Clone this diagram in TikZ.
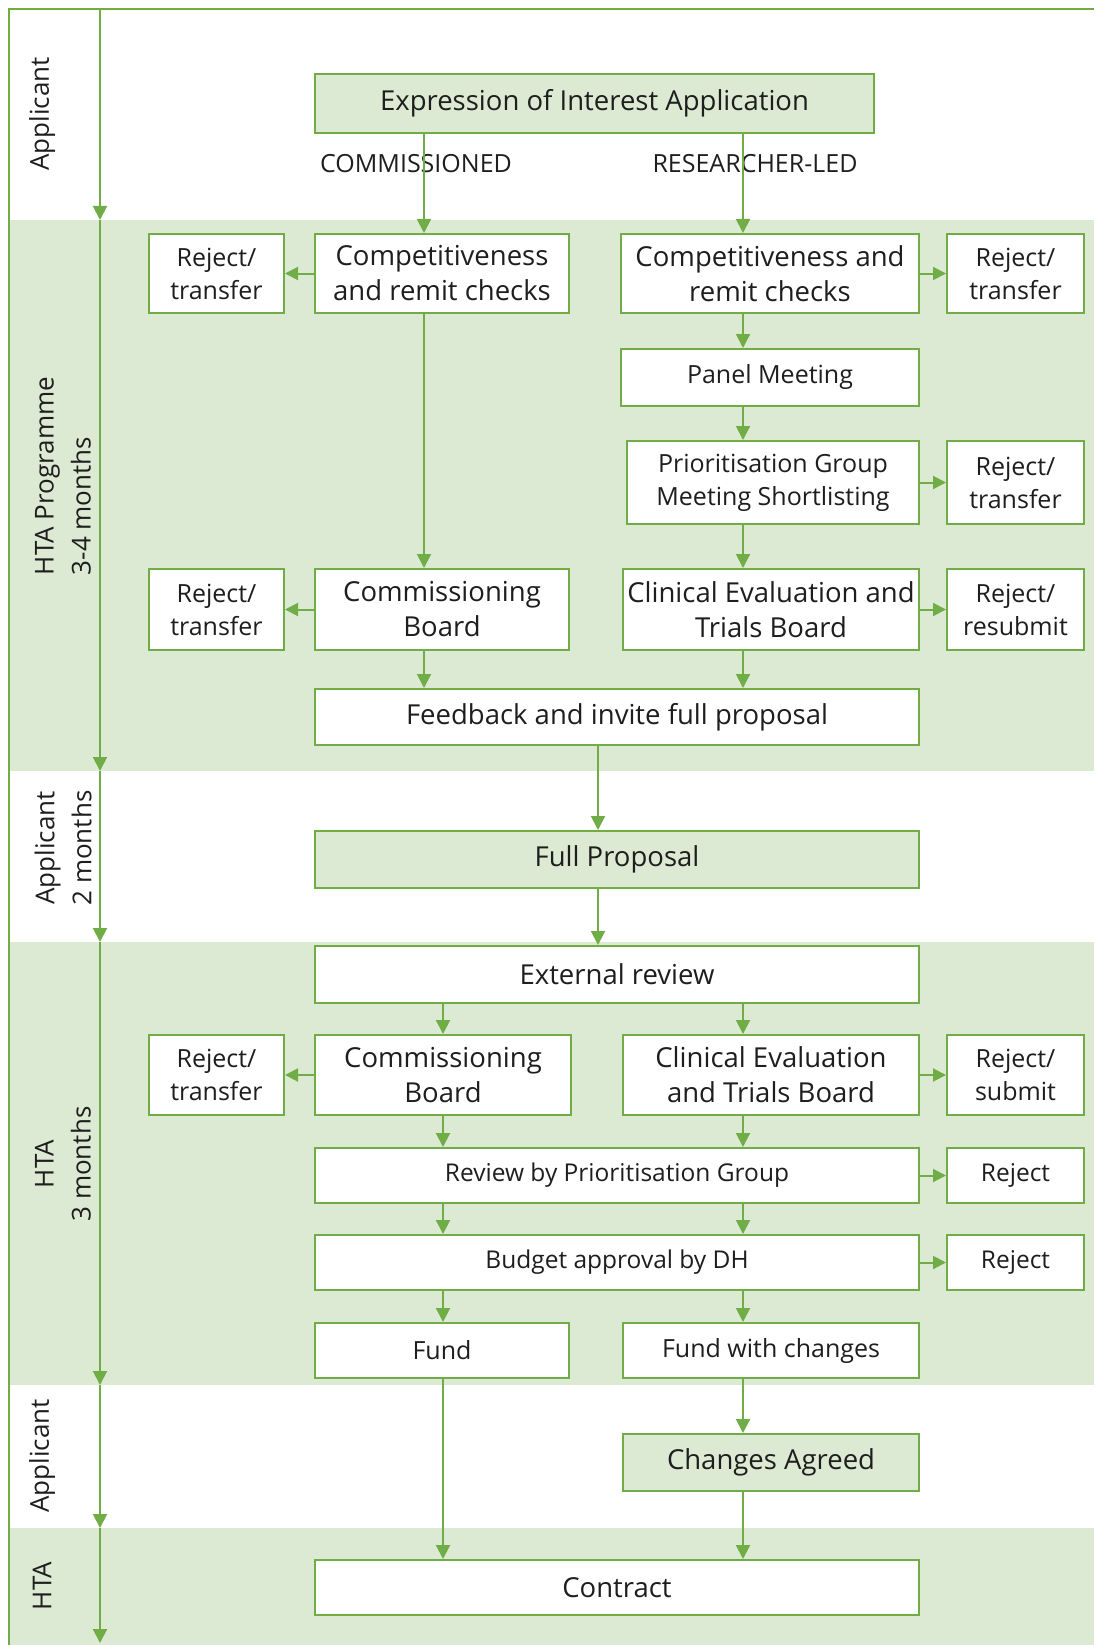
\documentclass[tikz,border=0pt]{standalone}
\usepackage{fontspec}
\setmainfont{Open Sans}
\usepackage{tikz}
\usetikzlibrary{arrows.meta, positioning}
\definecolor{htagreen}{RGB}{112,173,71}
\definecolor{bandgreen}{RGB}{221,234,211}
\definecolor{inkgray}{RGB}{30,30,30}
\newcommand{\fsbig}{\fontsize{27.5}{35}\selectfont}
\newcommand{\fsmid}{\fontsize{25}{33}\selectfont}
\newcommand{\fssmall}{\fontsize{24.5}{32}\selectfont}
\newcommand{\fslane}{\fontsize{26}{37}\selectfont}

\begin{document}
\begin{tikzpicture}[
    x=1pt, y=-1pt,
    box/.style={rectangle, draw=htagreen, line width=2pt, fill=white,
                inner sep=0pt, align=center, text=inkgray, font=\fsbig},
    midbox/.style={box, font=\fsmid},
    smallbox/.style={box, font=\fssmall},
    appbox/.style={box, fill=bandgreen},
    dims/.style 2 args={minimum width=#1pt, minimum height=#2pt},
    lane/.style={rotate=90, align=center, text=inkgray, font=\fslane},
    branch/.style={text=inkgray, font=\fsmid},
    arrow/.style={-{Triangle[length=14pt,width=14pt]}, line width=2pt, htagreen},
    sidearrow/.style={-{Triangle[length=13pt,width=13pt]}, line width=2pt, htagreen}
]
    \useasboundingbox (0,0) rectangle (1094,1645);

    % Bands
    \fill[bandgreen] (9,220) rectangle (1094,771);
    \fill[bandgreen] (9,942) rectangle (1094,1385);
    \fill[bandgreen] (9,1528) rectangle (1094,1645);
    \draw[htagreen, line width=2pt] (9,1645) -- (9,9) -- (1094,9);

    % Timeline
    \coordinate (t0) at (100,9);
    \coordinate (t1) at (100,220);
    \coordinate (t2) at (100,771);
    \coordinate (t3) at (100,942);
    \coordinate (t4) at (100,1385);
    \coordinate (t5) at (100,1528);
    \coordinate (t6) at (100,1643);
    \foreach \a/\b in {t0/t1, t1/t2, t2/t3, t3/t4, t4/t5, t5/t6}
        \draw[arrow] (\a) -- (\b);

    % Lane labels
    \node[lane] (lane1) at (42,114) {Applicant};
    \node[lane, align=left] (lane2) at (63,476) {HTA Programme\\3-4 months};
    \node[lane] (lane3) at (63,848) {Applicant\\2 months};
    \node[lane] (lane4) at (63,1164) {HTA\\3 months};
    \node[lane] (lane5) at (42,1456) {Applicant};
    \node[lane] (lane6) at (42,1586) {HTA};

    % Columns for the arrows
    \coordinate (colA) at (424,0);
    \coordinate (colB) at (443,0);
    \coordinate (colM) at (598,0);
    \coordinate (colR) at (743,0);

    % Nodes
    \node[appbox, dims={559}{59}] (expr) at (594.5,103.5) {Expression of Interest Application};
    \node[branch] (comm) at (416,164) {COMMISSIONED};
    \node[branch] (resled) at (755,164) {RESEARCHER-LED};

    \node[box, dims={254}{79}] (compL) at (442,273.5) {Competitiveness\\and remit checks};
    \node[midbox, dims={135}{79}] (rejL1) at (216.5,273.5) {Reject/\\transfer};
    \node[box, dims={298}{79}] (compR) at (770,273.5) {Competitiveness and\\remit checks};
    \node[midbox, dims={137}{79}] (rejR1) at (1015.5,273.5) {Reject/\\transfer};
    \node[midbox, dims={298}{57}] (panel) at (770,377.5) {Panel Meeting};
    \node[midbox, dims={292}{83}] (prio) at (773,482.5) {Prioritisation Group\\Meeting Shortlisting};
    \node[midbox, dims={137}{83}] (rejR2) at (1015.5,482.5) {Reject/\\transfer};
    \node[box, dims={254}{81}] (commL) at (442,609.5) {Commissioning\\Board};
    \node[midbox, dims={135}{81}] (rejL2) at (216.5,609.5) {Reject/\\transfer};
    \node[box, dims={296}{81}] (clinR) at (771,609.5) {Clinical Evaluation and\\Trials Board};
    \node[midbox, dims={137}{81}] (rejR3) at (1015.5,609.5) {Reject/\\resubmit};
    \node[box, dims={604}{56}] (feed) at (617,717) {Feedback and invite full proposal};

    \node[appbox, dims={604}{57}] (full) at (617,859.5) {Full Proposal};

    \node[box, dims={604}{57}] (ext) at (617,974.5) {External review};
    \node[box, dims={256}{80}] (comm2) at (443,1075) {Commissioning\\Board};
    \node[midbox, dims={135}{80}] (rejL3) at (216.5,1075) {Reject/\\transfer};
    \node[box, dims={296}{80}] (clin2) at (771,1075) {Clinical Evaluation\\and Trials Board};
    \node[midbox, dims={137}{80}] (rejR4) at (1015.5,1075) {Reject/\\submit};
    \node[smallbox, dims={604}{55}] (review) at (617,1175.5) {Review by Prioritisation Group};
    \node[smallbox, dims={137}{55}] (rejR5) at (1015.5,1175.5) {Reject};
    \node[smallbox, dims={604}{55}] (budget) at (617,1262.5) {Budget approval by DH};
    \node[smallbox, dims={137}{55}] (rejR6) at (1015.5,1262.5) {Reject};
    \node[midbox, dims={254}{55}] (fund) at (442,1350.5) {Fund};
    \node[midbox, dims={296}{55}] (fundch) at (771,1350.5) {Fund with changes};

    \node[appbox, dims={296}{57}] (agreed) at (771,1462.5) {Changes Agreed};

    \node[box, dims={604}{55}] (contract) at (617,1587.5) {Contract};

    % Arrows
    \draw[arrow] (expr.south -| colA) -- (compL.north -| colA);
    \draw[arrow] (expr.south -| colR) -- (compR.north -| colR);
    \draw[arrow] (compL.south -| colA) -- (commL.north -| colA);
    \draw[arrow] (commL.south -| colA) -- (feed.north -| colA);
    \draw[arrow] (compR.south -| colR) -- (panel.north -| colR);
    \draw[arrow] (panel.south -| colR) -- (prio.north -| colR);
    \draw[arrow] (prio.south -| colR) -- (clinR.north -| colR);
    \draw[arrow] (clinR.south -| colR) -- (feed.north -| colR);
    \draw[arrow] (feed.south -| colM) -- (full.north -| colM);
    \draw[arrow] (full.south -| colM) -- (ext.north -| colM);
    \draw[arrow] (ext.south -| colB) -- (comm2.north -| colB);
    \draw[arrow] (ext.south -| colR) -- (clin2.north -| colR);
    \draw[arrow] (comm2.south -| colB) -- (review.north -| colB);
    \draw[arrow] (clin2.south -| colR) -- (review.north -| colR);
    \draw[arrow] (review.south -| colB) -- (budget.north -| colB);
    \draw[arrow] (review.south -| colR) -- (budget.north -| colR);
    \draw[arrow] (budget.south -| colB) -- (fund.north -| colB);
    \draw[arrow] (budget.south -| colR) -- (fundch.north -| colR);
    \draw[arrow] (fundch.south -| colR) -- (agreed.north -| colR);
    \draw[arrow] (agreed.south -| colR) -- (contract.north -| colR);
    \draw[arrow] (fund.south -| colB) -- (contract.north -| colB);

    \draw[sidearrow] (compL) -- (rejL1);
    \draw[sidearrow] (commL) -- (rejL2);
    \draw[sidearrow] (comm2) -- (rejL3);
    \draw[sidearrow] (compR) -- (rejR1);
    \draw[sidearrow] (prio) -- (rejR2);
    \draw[sidearrow] (clinR) -- (rejR3);
    \draw[sidearrow] (clin2) -- (rejR4);
    \draw[sidearrow] (review) -- (rejR5);
    \draw[sidearrow] (budget) -- (rejR6);
\end{tikzpicture}
\end{document}
